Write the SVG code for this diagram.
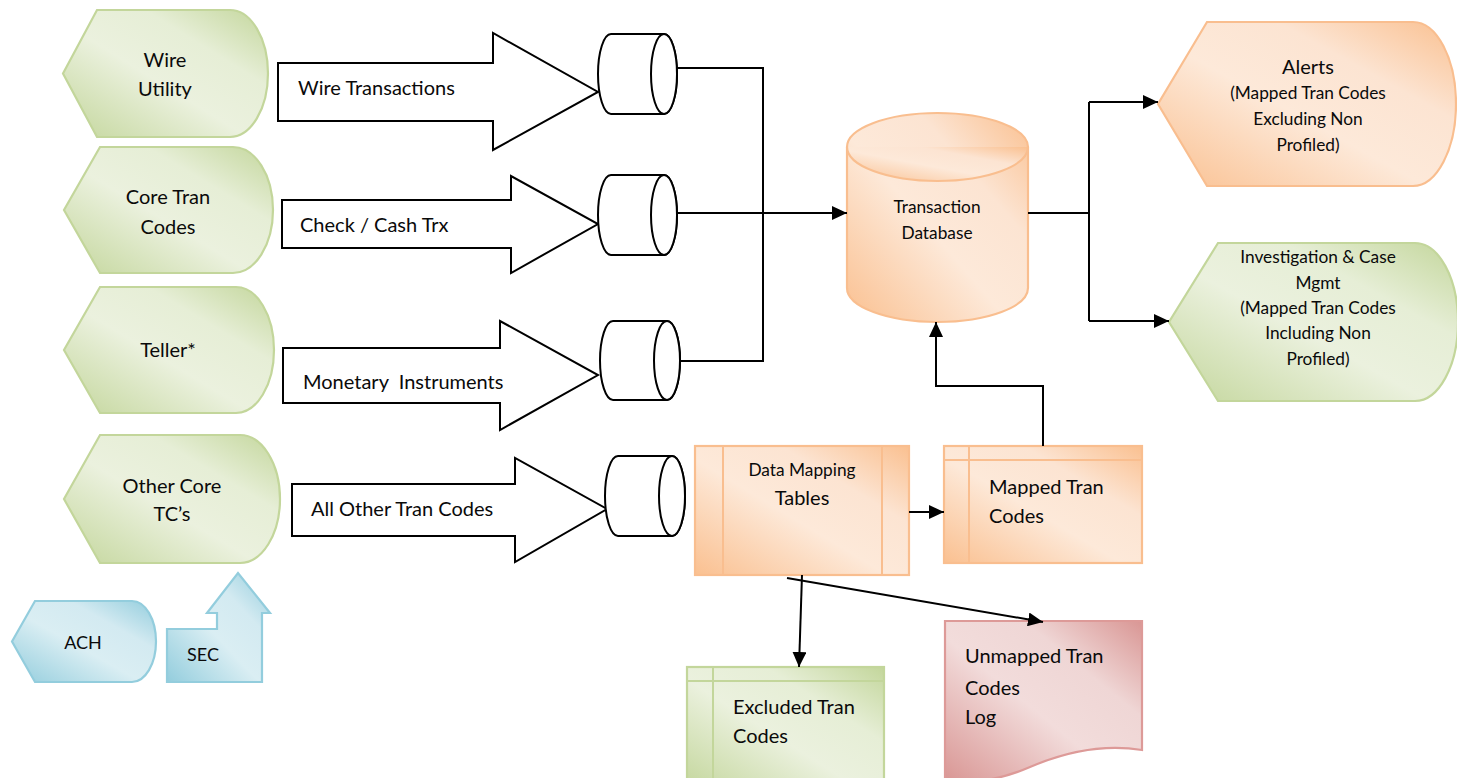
<svg xmlns="http://www.w3.org/2000/svg" width="1457" height="778" viewBox="0 0 1457 778">
<style>
text{font-family:Lato,"Open Sans","Liberation Sans",sans-serif;fill:#0a0a0a;}
.l{font-size:20px;}
.s{font-size:17.3px;}
.m{font-size:18px;}
.c{text-anchor:middle;}
.green{fill:url(#gGreen);stroke:#c3d69b;stroke-width:2.2;}
.orange{fill:url(#gOrange);stroke:#f9be8f;stroke-width:2.2;}
.blue{fill:url(#gBlue);stroke:#93cddd;stroke-width:2.2;}
.red{fill:url(#gRed);stroke:#dd9a98;stroke-width:2.2;}
.inO{stroke:#f9be8f;stroke-width:2;fill:none;}
.inG{stroke:#c3d69b;stroke-width:2;fill:none;}
.bigarrow{fill:#fff;stroke:#000;stroke-width:2;}
.cyl{fill:#fff;stroke:#000;stroke-width:2;}
.conn{fill:none;stroke:#000;stroke-width:2;}
</style>
<defs>
<linearGradient id="gGreen" x1="0" y1="1" x2="1" y2="0">
<stop offset="0" stop-color="#c3d69b"/>
<stop offset="0.45" stop-color="#ebf1de"/>
<stop offset="0.7" stop-color="#e6eed6"/>
<stop offset="1" stop-color="#c3d69b"/>
</linearGradient>
<linearGradient id="gOrange" x1="0" y1="1" x2="1" y2="0">
<stop offset="0" stop-color="#fac090"/>
<stop offset="0.45" stop-color="#fde9d9"/>
<stop offset="0.7" stop-color="#fce4d2"/>
<stop offset="1" stop-color="#fac090"/>
</linearGradient>
<linearGradient id="gBlue" x1="0" y1="1" x2="1" y2="0">
<stop offset="0" stop-color="#93cddd"/>
<stop offset="0.45" stop-color="#daeef3"/>
<stop offset="0.7" stop-color="#d3eaf1"/>
<stop offset="1" stop-color="#93cddd"/>
</linearGradient>
<linearGradient id="gRed" x1="0" y1="1" x2="1" y2="0">
<stop offset="0" stop-color="#d99694"/>
<stop offset="0.45" stop-color="#f2dcdb"/>
<stop offset="0.7" stop-color="#efd6d5"/>
<stop offset="1" stop-color="#d99694"/>
</linearGradient>
<marker id="arr" viewBox="0 0 15 14" refX="15" refY="7" markerWidth="15" markerHeight="14" markerUnits="userSpaceOnUse" orient="auto">
<path d="M0,0 L15,7 L0,14 Z" fill="#000"/>
</marker>
</defs>

<g id="wire-utility">
<path class="green" d="M97,10 H230 A38,63.5 0 0 1 230,137 H97 L63,73.5 Z"/>
<text class="l c" x="165" y="67">Wire</text>
<text class="l c" x="165" y="96">Utility</text>
</g>
<g id="core-tran-codes">
<path class="green" d="M100,147 H233 A40,63 0 0 1 233,273 H100 L64,210 Z"/>
<text class="l c" x="168" y="204">Core Tran</text>
<text class="l c" x="168" y="234">Codes</text>
</g>
<g id="teller">
<path class="green" d="M100,287 H236 A38,63 0 0 1 236,413 H100 L64,350 Z"/>
<text class="l c" x="168" y="357">Teller*</text>
</g>
<g id="other-core">
<path class="green" d="M100,435 H240 A40,64 0 0 1 240,563 H100 L64,499 Z"/>
<text class="l c" x="172" y="493">Other Core</text>
<text class="l c" x="172" y="521">TC’s</text>
</g>
<g id="ach">
<path class="blue" d="M35,601 H132 A24,40.5 0 0 1 132,682 H35 L12,641.5 Z"/>
<text class="m c" x="83" y="649">ACH</text>
</g>
<g id="sec">
<path class="blue" d="M167,629 H217 V613 H207 L238,573 L270,613 H262 V682 H167 Z"/>
<text class="m c" x="203" y="661">SEC</text>
</g>

<g id="arrow-wire">
<polygon class="bigarrow" points="278,63 493,63 493,33 598,92 493,150 493,121 278,121"/>
<text class="l" x="298" y="95">Wire Transactions</text>
</g>
<g id="arrow-check">
<polygon class="bigarrow" points="282,200 511,200 511,176 598,224 511,273 511,248 282,248"/>
<text class="l" x="300" y="232">Check / Cash Trx</text>
</g>
<g id="arrow-monetary">
<polygon class="bigarrow" points="283,348 500,348 500,321 598,375 500,430 500,403 283,403"/>
<text class="l" x="303" y="389">Monetary&#160; Instruments</text>
</g>
<g id="arrow-other">
<polygon class="bigarrow" points="292,484 515,484 515,458 607,509 515,562 515,536 292,536"/>
<text class="l" x="311" y="516">All Other Tran Codes</text>
</g>

<g id="cyl-1">
<path class="cyl" d="M611,34 H664 A13,40 0 0 1 664,114 H611 A13,40 0 0 1 611,34 Z"/>
<ellipse class="cyl" cx="664" cy="74" rx="13" ry="40"/>
</g>
<g id="cyl-2">
<path class="cyl" d="M611,175 H664 A13,40 0 0 1 664,255 H611 A13,40 0 0 1 611,175 Z"/>
<ellipse class="cyl" cx="664" cy="215" rx="13" ry="40"/>
</g>
<g id="cyl-3">
<path class="cyl" d="M613,321 H667 A13,39.5 0 0 1 667,400 H613 A13,39.5 0 0 1 613,321 Z"/>
<ellipse class="cyl" cx="667" cy="360.5" rx="13" ry="39.5"/>
</g>
<g id="cyl-4">
<path class="cyl" d="M618,456 H672 A13,40 0 0 1 672,536 H618 A13,40 0 0 1 618,456 Z"/>
<ellipse class="cyl" cx="672" cy="496" rx="13" ry="40"/>
</g>

<g id="transaction-db">
<path class="orange" d="M847,147 A90.5,34 0 0 1 1028,147 V288 A90.5,34 0 0 1 847,288 Z"/>
<path class="orange" d="M847,147 A90.5,34 0 0 0 1028,147" fill="none"/>
<text class="s c" x="937" y="213">Transaction</text>
<text class="s c" x="937" y="239">Database</text>
</g>

<g id="alerts">
<path class="orange" d="M1207,22 H1413 A43,82 0 0 1 1413,186 H1207 L1158,104 Z"/>
<text class="l c" x="1308" y="74">Alerts</text>
<text class="s c" x="1308" y="99">(Mapped Tran Codes</text>
<text class="s c" x="1308" y="125">Excluding Non</text>
<text class="s c" x="1308" y="151">Profiled)</text>
</g>
<g id="investigation">
<path class="green" d="M1218,243 H1415 A43,79 0 0 1 1415,401 H1218 L1169,322 Z"/>
<text class="s c" x="1318" y="263">Investigation &amp; Case</text>
<text class="s c" x="1318" y="289">Mgmt</text>
<text class="s c" x="1318" y="314">(Mapped Tran Codes</text>
<text class="s c" x="1318" y="339">Including Non</text>
<text class="s c" x="1318" y="365">Profiled)</text>
</g>

<g id="data-mapping-tables">
<rect class="orange" x="695" y="446" width="214" height="129"/>
<path class="inO" d="M723,446 V575 M882,446 V575"/>
<text class="s c" x="802" y="476">Data Mapping</text>
<text class="l c" x="802" y="505">Tables</text>
</g>
<g id="mapped-tran-codes">
<rect class="orange" x="944" y="446" width="198" height="117"/>
<path class="inO" d="M944,460 H1142 M969,446 V563"/>
<text class="l" x="989" y="494">Mapped Tran</text>
<text class="l" x="989" y="523">Codes</text>
</g>
<g id="excluded-tran-codes">
<rect class="green" x="687" y="667" width="197" height="125"/>
<path class="inG" d="M687,681 H884 M713,667 V792"/>
<text class="l" x="733" y="714">Excluded Tran</text>
<text class="l" x="733" y="743">Codes</text>
</g>
<g id="unmapped-log">
<path class="red" d="M945,621 H1142 V750 C1105,744 1065,752 1030,767 C1000,780 970,784 945,780 Z"/>
<text class="l" x="965" y="663">Unmapped Tran</text>
<text class="l" x="965" y="695">Codes</text>
<text class="l" x="965" y="724">Log</text>
</g>

<g id="connectors">
<path class="conn" d="M677,68 H763 V361 H680"/>
<path class="conn" d="M677,213 H847" marker-end="url(#arr)"/>
<path class="conn" d="M1028,213 H1089"/>
<path class="conn" d="M1089,102 V321"/>
<path class="conn" d="M1089,102 H1158" marker-end="url(#arr)"/>
<path class="conn" d="M1089,321 H1169" marker-end="url(#arr)"/>
<path class="conn" d="M1043,446 V386 H936 V322" marker-end="url(#arr)"/>
<path class="conn" d="M909,512 H944" marker-end="url(#arr)"/>
<path class="conn" d="M802,575 L799,667" marker-end="url(#arr)"/>
<path class="conn" d="M787,578 L1043,622" marker-end="url(#arr)"/>
</g>
</svg>
